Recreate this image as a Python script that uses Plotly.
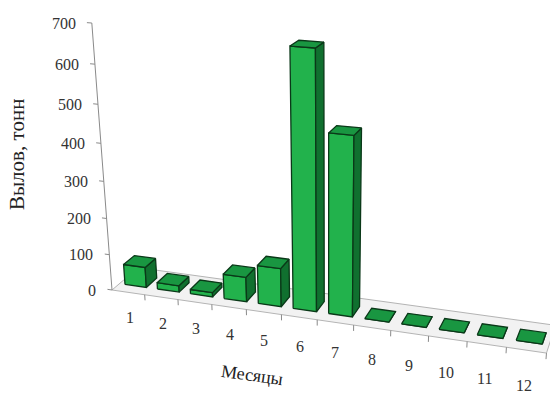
import numpy as np
import plotly.graph_objects as go

# Monthly catch, tonnes
months = ["1", "2", "3", "4", "5", "6", "7", "8", "9", "10", "11", "12"]
catch_t = [57, 18, 12, 68, 105, 670, 470, 0, 0, 0, 0, 0]
value_ticks = [0, 100, 200, 300, 400, 500, 600, 700]
y_title = "Вылов, тонн"
x_title = "Месяцы"

# ---- simple perspective camera for a 3-D column chart ----
AZ = np.radians(18.0)
EL = np.radians(22.0)
DIST = 31.0
FOCAL = 1180.0
TARGET = np.array([6.0, 0.93, 2.2])
UNIT = 7.458 / 700.0         # world height per tonne
BAR_W = 0.66
BAR_D = 0.66
BAR_Y0 = 0.45                # gap in front of the columns
FLOOR_D = BAR_Y0 + BAR_D + 0.50
ORIGIN_PX = (112.0, 290.0)   # where the front-left floor corner lands

right = np.array([np.cos(AZ), np.sin(AZ), 0.0])
fwd = np.array([-np.sin(AZ) * np.cos(EL), np.cos(AZ) * np.cos(EL), -np.sin(EL)])
up = np.cross(right, fwd)


def _raw(p):
    v = np.asarray(p, dtype=float) - TARGET
    xc, yc, zc = v @ right, v @ up, v @ fwd + DIST
    return FOCAL * xc / zc, -FOCAL * yc / zc


_ox, _oy = _raw((0, 0, 0))


def proj(x, y, z):
    a, b = _raw((x, y, z))
    return a - _ox + ORIGIN_PX[0], b - _oy + ORIGIN_PX[1]


def poly(pts):
    xs, ys = zip(*[proj(*p) for p in pts])
    return list(xs) + [xs[0]], list(ys) + [ys[0]]


fig = go.Figure()


def add_face(pts, fill, line="#0a3818", width=1.3):
    xs, ys = poly(pts)
    fig.add_trace(go.Scatter(x=xs, y=ys, mode="lines", fill="toself",
                             fillcolor=fill, line=dict(color=line, width=width),
                             hoverinfo="skip", showlegend=False))


def add_line(p0, p1, color="#8a8a8a", width=1):
    a, b = proj(*p0), proj(*p1)
    fig.add_trace(go.Scatter(x=[a[0], b[0]], y=[a[1], b[1]], mode="lines",
                             line=dict(color=color, width=width),
                             hoverinfo="skip", showlegend=False))


n = len(months)

# floor
add_face([(0, 0, 0), (n, 0, 0), (n, FLOOR_D, 0), (0, FLOOR_D, 0)],
         "#f2f2f2", line="#b4b4b4", width=1)

# value axis with ticks
add_line((0, 0, 0), (0, 0, value_ticks[-1] * UNIT))
for v in value_ticks:
    add_line((-0.14, 0, v * UNIT), (0, 0, v * UNIT))

# category ticks on the front edge of the floor
for k in range(1, n + 1):
    add_line((k, 0, 0), (k, 0, -0.17))

# columns, left to right (back to front for this view)
FRONT, SIDE, TOP = "#22b24c", "#10702f", "#199641"
for i, val in enumerate(catch_t):
    cx = i + 0.5
    x0, x1 = cx - BAR_W / 2, cx + BAR_W / 2
    y0, y1 = BAR_Y0, BAR_Y0 + BAR_D
    h = val * UNIT
    add_face([(x0, y0, 0), (x1, y0, 0), (x1, y0, h), (x0, y0, h)], FRONT)
    add_face([(x1, y0, 0), (x1, y1, 0), (x1, y1, h), (x1, y0, h)], SIDE)
    add_face([(x0, y0, h), (x1, y0, h), (x1, y1, h), (x0, y1, h)], TOP)

annotations = []
tick_font = dict(family="Liberation Serif, Times New Roman, serif", size=16, color="#333333")

for v in value_ticks:
    px, py = proj(0, 0, v * UNIT)
    annotations.append(dict(x=px - 14, y=py, text=str(v), showarrow=False,
                            xanchor="right", yanchor="middle", font=tick_font))

for i, m in enumerate(months):
    px, py = proj(i + 0.5, 0, -(0.77 + 0.021 * i))
    annotations.append(dict(x=px, y=py, text=m, showarrow=False,
                            xanchor="center", yanchor="middle", font=tick_font))

annotations.append(dict(x=17, y=155, text=y_title, textangle=-90, showarrow=False,
                        xanchor="center", yanchor="middle",
                        font=dict(family="Liberation Serif, serif", size=21, color="#222222")))
annotations.append(dict(x=252, y=375, text=x_title, textangle=8, showarrow=False,
                        xanchor="center", yanchor="middle",
                        font=dict(family="Liberation Serif, serif", size=18, color="#222222")))

fig.update_layout(
    width=550, height=397,
    margin=dict(l=0, r=0, t=0, b=0),
    paper_bgcolor="white", plot_bgcolor="white",
    xaxis=dict(range=[0, 550], visible=False, fixedrange=True),
    yaxis=dict(range=[397, 0], visible=False, fixedrange=True),
    annotations=annotations,
)

fig.write_html("out.html")
